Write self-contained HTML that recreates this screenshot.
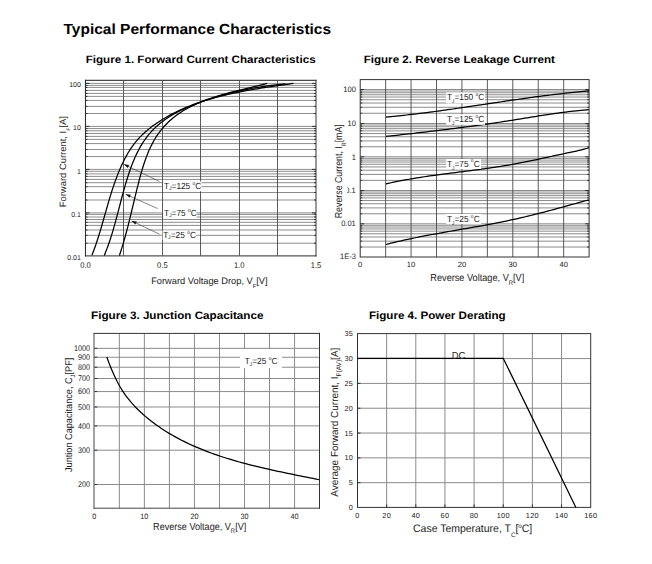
<!DOCTYPE html>
<html><head><meta charset="utf-8"><title>Typical Performance Characteristics</title>
<style>
html,body{margin:0;padding:0;background:#fff;}
body{width:652px;height:564px;overflow:hidden;}
svg{display:block;font-family:"Liberation Sans",Arial,sans-serif;text-rendering:geometricPrecision;}
</style></head><body>
<svg width="652" height="564" viewBox="0 0 652 564">

<rect width="652" height="564" fill="#fff"/>
<g>
<line x1="85.5" y1="243.2" x2="316" y2="243.2" stroke="#8c8c8c" stroke-width="1"/>
<line x1="85.5" y1="243.2" x2="87.5" y2="243.2" stroke="#333" stroke-width="1"/>
<line x1="314" y1="243.2" x2="316" y2="243.2" stroke="#333" stroke-width="1"/>
<line x1="85.5" y1="235.35" x2="316" y2="235.35" stroke="#8c8c8c" stroke-width="1"/>
<line x1="85.5" y1="235.35" x2="87.5" y2="235.35" stroke="#333" stroke-width="1"/>
<line x1="314" y1="235.35" x2="316" y2="235.35" stroke="#333" stroke-width="1"/>
<line x1="85.5" y1="230" x2="316" y2="230" stroke="#8c8c8c" stroke-width="1"/>
<line x1="85.5" y1="230" x2="87.5" y2="230" stroke="#333" stroke-width="1"/>
<line x1="314" y1="230" x2="316" y2="230" stroke="#333" stroke-width="1"/>
<line x1="85.5" y1="225.4" x2="316" y2="225.4" stroke="#8c8c8c" stroke-width="1"/>
<line x1="85.5" y1="225.4" x2="87.5" y2="225.4" stroke="#333" stroke-width="1"/>
<line x1="314" y1="225.4" x2="316" y2="225.4" stroke="#333" stroke-width="1"/>
<line x1="85.5" y1="222.3" x2="316" y2="222.3" stroke="#8c8c8c" stroke-width="1"/>
<line x1="85.5" y1="222.3" x2="87.5" y2="222.3" stroke="#333" stroke-width="1"/>
<line x1="314" y1="222.3" x2="316" y2="222.3" stroke="#333" stroke-width="1"/>
<line x1="85.5" y1="219.5" x2="316" y2="219.5" stroke="#8c8c8c" stroke-width="1"/>
<line x1="85.5" y1="219.5" x2="87.5" y2="219.5" stroke="#333" stroke-width="1"/>
<line x1="314" y1="219.5" x2="316" y2="219.5" stroke="#333" stroke-width="1"/>
<line x1="85.5" y1="217" x2="316" y2="217" stroke="#8c8c8c" stroke-width="1"/>
<line x1="85.5" y1="217" x2="87.5" y2="217" stroke="#333" stroke-width="1"/>
<line x1="314" y1="217" x2="316" y2="217" stroke="#333" stroke-width="1"/>
<line x1="85.5" y1="214.4" x2="316" y2="214.4" stroke="#8c8c8c" stroke-width="1"/>
<line x1="85.5" y1="214.4" x2="87.5" y2="214.4" stroke="#333" stroke-width="1"/>
<line x1="314" y1="214.4" x2="316" y2="214.4" stroke="#333" stroke-width="1"/>
<line x1="85.5" y1="212.9" x2="316" y2="212.9" stroke="#8c8c8c" stroke-width="1"/>
<line x1="85.5" y1="212.9" x2="89.5" y2="212.9" stroke="#333" stroke-width="1"/>
<line x1="312" y1="212.9" x2="316" y2="212.9" stroke="#333" stroke-width="1"/>
<line x1="85.5" y1="200" x2="316" y2="200" stroke="#8c8c8c" stroke-width="1"/>
<line x1="85.5" y1="200" x2="87.5" y2="200" stroke="#333" stroke-width="1"/>
<line x1="314" y1="200" x2="316" y2="200" stroke="#333" stroke-width="1"/>
<line x1="85.5" y1="192.5" x2="316" y2="192.5" stroke="#8c8c8c" stroke-width="1"/>
<line x1="85.5" y1="192.5" x2="87.5" y2="192.5" stroke="#333" stroke-width="1"/>
<line x1="314" y1="192.5" x2="316" y2="192.5" stroke="#333" stroke-width="1"/>
<line x1="85.5" y1="186.7" x2="316" y2="186.7" stroke="#8c8c8c" stroke-width="1"/>
<line x1="85.5" y1="186.7" x2="87.5" y2="186.7" stroke="#333" stroke-width="1"/>
<line x1="314" y1="186.7" x2="316" y2="186.7" stroke="#333" stroke-width="1"/>
<line x1="85.5" y1="182.7" x2="316" y2="182.7" stroke="#8c8c8c" stroke-width="1"/>
<line x1="85.5" y1="182.7" x2="87.5" y2="182.7" stroke="#333" stroke-width="1"/>
<line x1="314" y1="182.7" x2="316" y2="182.7" stroke="#333" stroke-width="1"/>
<line x1="85.5" y1="179.4" x2="316" y2="179.4" stroke="#8c8c8c" stroke-width="1"/>
<line x1="85.5" y1="179.4" x2="87.5" y2="179.4" stroke="#333" stroke-width="1"/>
<line x1="314" y1="179.4" x2="316" y2="179.4" stroke="#333" stroke-width="1"/>
<line x1="85.5" y1="176.4" x2="316" y2="176.4" stroke="#8c8c8c" stroke-width="1"/>
<line x1="85.5" y1="176.4" x2="87.5" y2="176.4" stroke="#333" stroke-width="1"/>
<line x1="314" y1="176.4" x2="316" y2="176.4" stroke="#333" stroke-width="1"/>
<line x1="85.5" y1="173.9" x2="316" y2="173.9" stroke="#8c8c8c" stroke-width="1"/>
<line x1="85.5" y1="173.9" x2="87.5" y2="173.9" stroke="#333" stroke-width="1"/>
<line x1="314" y1="173.9" x2="316" y2="173.9" stroke="#333" stroke-width="1"/>
<line x1="85.5" y1="171.3" x2="316" y2="171.3" stroke="#8c8c8c" stroke-width="1"/>
<line x1="85.5" y1="171.3" x2="87.5" y2="171.3" stroke="#333" stroke-width="1"/>
<line x1="314" y1="171.3" x2="316" y2="171.3" stroke="#333" stroke-width="1"/>
<line x1="85.5" y1="169.4" x2="316" y2="169.4" stroke="#8c8c8c" stroke-width="1"/>
<line x1="85.5" y1="169.4" x2="89.5" y2="169.4" stroke="#333" stroke-width="1"/>
<line x1="312" y1="169.4" x2="316" y2="169.4" stroke="#333" stroke-width="1"/>
<line x1="85.5" y1="156.6" x2="316" y2="156.6" stroke="#8c8c8c" stroke-width="1"/>
<line x1="85.5" y1="156.6" x2="87.5" y2="156.6" stroke="#333" stroke-width="1"/>
<line x1="314" y1="156.6" x2="316" y2="156.6" stroke="#333" stroke-width="1"/>
<line x1="85.5" y1="149.5" x2="316" y2="149.5" stroke="#8c8c8c" stroke-width="1"/>
<line x1="85.5" y1="149.5" x2="87.5" y2="149.5" stroke="#333" stroke-width="1"/>
<line x1="314" y1="149.5" x2="316" y2="149.5" stroke="#333" stroke-width="1"/>
<line x1="85.5" y1="143.6" x2="316" y2="143.6" stroke="#8c8c8c" stroke-width="1"/>
<line x1="85.5" y1="143.6" x2="87.5" y2="143.6" stroke="#333" stroke-width="1"/>
<line x1="314" y1="143.6" x2="316" y2="143.6" stroke="#333" stroke-width="1"/>
<line x1="85.5" y1="139.4" x2="316" y2="139.4" stroke="#8c8c8c" stroke-width="1"/>
<line x1="85.5" y1="139.4" x2="87.5" y2="139.4" stroke="#333" stroke-width="1"/>
<line x1="314" y1="139.4" x2="316" y2="139.4" stroke="#333" stroke-width="1"/>
<line x1="85.5" y1="136.4" x2="316" y2="136.4" stroke="#8c8c8c" stroke-width="1"/>
<line x1="85.5" y1="136.4" x2="87.5" y2="136.4" stroke="#333" stroke-width="1"/>
<line x1="314" y1="136.4" x2="316" y2="136.4" stroke="#333" stroke-width="1"/>
<line x1="85.5" y1="133.46" x2="316" y2="133.46" stroke="#8c8c8c" stroke-width="1"/>
<line x1="85.5" y1="133.46" x2="87.5" y2="133.46" stroke="#333" stroke-width="1"/>
<line x1="314" y1="133.46" x2="316" y2="133.46" stroke="#333" stroke-width="1"/>
<line x1="85.5" y1="130.77" x2="316" y2="130.77" stroke="#8c8c8c" stroke-width="1"/>
<line x1="85.5" y1="130.77" x2="87.5" y2="130.77" stroke="#333" stroke-width="1"/>
<line x1="314" y1="130.77" x2="316" y2="130.77" stroke="#333" stroke-width="1"/>
<line x1="85.5" y1="128.56" x2="316" y2="128.56" stroke="#8c8c8c" stroke-width="1"/>
<line x1="85.5" y1="128.56" x2="87.5" y2="128.56" stroke="#333" stroke-width="1"/>
<line x1="314" y1="128.56" x2="316" y2="128.56" stroke="#333" stroke-width="1"/>
<line x1="85.5" y1="126.4" x2="316" y2="126.4" stroke="#8c8c8c" stroke-width="1"/>
<line x1="85.5" y1="126.4" x2="89.5" y2="126.4" stroke="#333" stroke-width="1"/>
<line x1="312" y1="126.4" x2="316" y2="126.4" stroke="#333" stroke-width="1"/>
<line x1="85.5" y1="113.5" x2="316" y2="113.5" stroke="#8c8c8c" stroke-width="1"/>
<line x1="85.5" y1="113.5" x2="87.5" y2="113.5" stroke="#333" stroke-width="1"/>
<line x1="314" y1="113.5" x2="316" y2="113.5" stroke="#333" stroke-width="1"/>
<line x1="85.5" y1="106.4" x2="316" y2="106.4" stroke="#8c8c8c" stroke-width="1"/>
<line x1="85.5" y1="106.4" x2="87.5" y2="106.4" stroke="#333" stroke-width="1"/>
<line x1="314" y1="106.4" x2="316" y2="106.4" stroke="#333" stroke-width="1"/>
<line x1="85.5" y1="100.4" x2="316" y2="100.4" stroke="#8c8c8c" stroke-width="1"/>
<line x1="85.5" y1="100.4" x2="87.5" y2="100.4" stroke="#333" stroke-width="1"/>
<line x1="314" y1="100.4" x2="316" y2="100.4" stroke="#333" stroke-width="1"/>
<line x1="85.5" y1="96.4" x2="316" y2="96.4" stroke="#8c8c8c" stroke-width="1"/>
<line x1="85.5" y1="96.4" x2="87.5" y2="96.4" stroke="#333" stroke-width="1"/>
<line x1="314" y1="96.4" x2="316" y2="96.4" stroke="#333" stroke-width="1"/>
<line x1="85.5" y1="93.4" x2="316" y2="93.4" stroke="#8c8c8c" stroke-width="1"/>
<line x1="85.5" y1="93.4" x2="87.5" y2="93.4" stroke="#333" stroke-width="1"/>
<line x1="314" y1="93.4" x2="316" y2="93.4" stroke="#333" stroke-width="1"/>
<line x1="85.5" y1="90.4" x2="316" y2="90.4" stroke="#8c8c8c" stroke-width="1"/>
<line x1="85.5" y1="90.4" x2="87.5" y2="90.4" stroke="#333" stroke-width="1"/>
<line x1="314" y1="90.4" x2="316" y2="90.4" stroke="#333" stroke-width="1"/>
<line x1="85.5" y1="87.4" x2="316" y2="87.4" stroke="#8c8c8c" stroke-width="1"/>
<line x1="85.5" y1="87.4" x2="87.5" y2="87.4" stroke="#333" stroke-width="1"/>
<line x1="314" y1="87.4" x2="316" y2="87.4" stroke="#333" stroke-width="1"/>
<line x1="85.5" y1="85.4" x2="316" y2="85.4" stroke="#8c8c8c" stroke-width="1"/>
<line x1="85.5" y1="85.4" x2="87.5" y2="85.4" stroke="#333" stroke-width="1"/>
<line x1="314" y1="85.4" x2="316" y2="85.4" stroke="#333" stroke-width="1"/>
<line x1="85.5" y1="83.4" x2="316" y2="83.4" stroke="#8c8c8c" stroke-width="1"/>
<line x1="85.5" y1="83.4" x2="89.5" y2="83.4" stroke="#333" stroke-width="1"/>
<line x1="312" y1="83.4" x2="316" y2="83.4" stroke="#333" stroke-width="1"/>
<line x1="123.5" y1="80.45" x2="123.5" y2="255.9" stroke="#4a4a4a" stroke-width="0.9"/>
<line x1="162.5" y1="80.45" x2="162.5" y2="255.9" stroke="#4a4a4a" stroke-width="0.9"/>
<line x1="200.5" y1="80.45" x2="200.5" y2="255.9" stroke="#4a4a4a" stroke-width="0.9"/>
<line x1="239.5" y1="80.45" x2="239.5" y2="255.9" stroke="#4a4a4a" stroke-width="0.9"/>
<line x1="277.5" y1="80.45" x2="277.5" y2="255.9" stroke="#4a4a4a" stroke-width="0.9"/>
<line x1="84.95" y1="80.3" x2="316.5" y2="80.3" stroke="#4a4a4a" stroke-width="1.2"/>
<line x1="84.95" y1="255.9" x2="316.5" y2="255.9" stroke="#555" stroke-width="1.2"/>
<line x1="85.45" y1="79.8" x2="85.45" y2="256.4" stroke="#222" stroke-width="1"/>
<line x1="316" y1="79.8" x2="316" y2="256.4" stroke="#333" stroke-width="1"/>
<polyline points="91.88,255.37 92.77,253.1 93.64,250.81 94.48,248.52 95.31,246.21 96.11,243.89 96.89,241.56 97.66,239.22 98.41,236.87 99.14,234.52 99.87,232.15 100.58,229.78 101.28,227.4 101.97,225.02 102.66,222.63 103.34,220.24 104.02,217.85 104.7,215.46 105.38,213.06 106.06,210.66 106.74,208.27 107.43,205.87 108.12,203.47 108.82,201.08 109.53,198.69 110.25,196.31 110.98,193.93 111.73,191.55 112.49,189.18 113.27,186.82 114.07,184.46 114.89,182.12 115.73,179.78 116.6,177.45 117.48,175.14 118.4,172.83 119.34,170.54 120.32,168.26 121.32,165.99 122.36,163.74 123.43,161.51 124.54,159.29 125.7,157.11 126.89,154.94 128.13,152.81 129.41,150.71 130.75,148.65 132.13,146.62 133.57,144.63 135.07,142.69 136.62,140.8 138.24,138.95 139.91,137.16 141.64,135.41 143.42,133.71 145.24,132.06 147.11,130.45 149.02,128.88 150.97,127.36 152.95,125.87 154.95,124.43 156.99,123.02 159.04,121.65 161.11,120.32 163.21,119.02 165.32,117.75 167.45,116.52 169.6,115.33 171.77,114.17 173.95,113.04 176.16,111.94 178.38,110.87 180.61,109.83 182.86,108.82 185.12,107.84 187.4,106.89 189.69,105.97 192,105.07 194.32,104.2 196.65,103.36 198.99,102.54 201.34,101.75 203.7,100.98 206.07,100.23 208.45,99.51 210.84,98.81 213.24,98.13 215.65,97.47 218.06,96.83 220.48,96.21 222.9,95.6 225.33,95.02 227.77,94.45 230.21,93.9 232.65,93.37 235.1,92.85 237.55,92.35 240,91.86 242.45,91.38 244.91,90.92 247.36,90.47 249.82,90.03 252.27,89.61 254.73,89.19 257.18,88.78 259.63,88.38 262.07,87.99 264.52,87.61 266.96,87.24 269.39,86.87 271.82,86.51 274.25,86.15 276.67,85.8 279.08,85.45 281.49,85.1 283.89,84.76 286.28,84.42 288.66,84.08 291.03,83.74 293.39,83.4" fill="none" stroke="#000" stroke-width="1.25" stroke-linejoin="round"/>
<polyline points="104.27,255.41 105.17,253.23 106.05,251.05 106.89,248.86 107.7,246.66 108.5,244.46 109.27,242.25 110.01,240.03 110.74,237.81 111.45,235.58 112.13,233.35 112.81,231.11 113.46,228.87 114.11,226.63 114.74,224.38 115.36,222.13 115.98,219.87 116.58,217.62 117.18,215.36 117.77,213.1 118.36,210.83 118.95,208.57 119.54,206.31 120.12,204.04 120.71,201.78 121.31,199.51 121.9,197.25 122.51,194.99 123.12,192.73 123.74,190.47 124.37,188.21 125.02,185.95 125.67,183.7 126.34,181.45 127.03,179.21 127.74,176.97 128.46,174.73 129.21,172.5 129.97,170.27 130.76,168.05 131.58,165.84 132.43,163.63 133.3,161.44 134.21,159.27 135.15,157.11 136.12,154.98 137.14,152.86 138.2,150.77 139.29,148.71 140.44,146.67 141.63,144.67 142.87,142.7 144.16,140.77 145.49,138.87 146.87,137.01 148.3,135.19 149.78,133.42 151.3,131.69 152.88,130 154.49,128.37 156.16,126.78 157.87,125.24 159.62,123.75 161.42,122.31 163.25,120.92 165.13,119.56 167.04,118.26 168.98,116.99 170.96,115.77 172.96,114.58 175,113.43 177.06,112.32 179.14,111.24 181.25,110.2 183.38,109.19 185.52,108.2 187.68,107.25 189.86,106.32 192.05,105.42 194.25,104.55 196.46,103.69 198.67,102.86 200.89,102.05 203.12,101.26 205.34,100.48 207.57,99.73 209.8,98.99 212.04,98.27 214.28,97.57 216.52,96.89 218.77,96.22 221.01,95.58 223.27,94.95 225.52,94.33 227.78,93.74 230.04,93.16 232.3,92.6 234.57,92.05 236.84,91.52 239.12,91.01 241.4,90.51 243.68,90.03 245.96,89.56 248.25,89.11 250.54,88.67 252.83,88.25 255.13,87.85 257.43,87.46 259.73,87.08 262.04,86.72 264.35,86.37 266.67,86.04 268.98,85.72 271.3,85.41 273.63,85.12 275.96,84.84 278.29,84.57 280.62,84.32 282.96,84.08 285.3,83.85" fill="none" stroke="#000" stroke-width="1.25" stroke-linejoin="round"/>
<polyline points="119.41,255.52 120.09,253.49 120.75,251.46 121.39,249.43 122.02,247.4 122.64,245.37 123.25,243.34 123.84,241.31 124.42,239.28 124.99,237.24 125.55,235.21 126.1,233.18 126.64,231.14 127.18,229.11 127.71,227.07 128.23,225.03 128.74,222.99 129.25,220.95 129.75,218.91 130.25,216.87 130.75,214.83 131.24,212.78 131.73,210.74 132.22,208.69 132.71,206.65 133.2,204.6 133.69,202.55 134.18,200.5 134.67,198.45 135.17,196.39 135.67,194.34 136.17,192.28 136.67,190.22 137.19,188.16 137.7,186.1 138.23,184.04 138.76,181.98 139.3,179.91 139.85,177.84 140.41,175.78 140.98,173.72 141.56,171.65 142.16,169.6 142.78,167.55 143.42,165.51 144.08,163.47 144.76,161.45 145.46,159.44 146.19,157.44 146.94,155.46 147.73,153.49 148.54,151.54 149.39,149.6 150.26,147.69 151.18,145.8 152.13,143.92 153.12,142.08 154.14,140.26 155.21,138.46 156.32,136.69 157.48,134.95 158.67,133.25 159.91,131.57 161.19,129.93 162.51,128.32 163.88,126.74 165.28,125.2 166.72,123.7 168.21,122.24 169.73,120.82 171.3,119.44 172.9,118.1 174.53,116.8 176.2,115.53 177.9,114.31 179.63,113.12 181.39,111.96 183.18,110.84 184.99,109.76 186.82,108.71 188.67,107.69 190.54,106.71 192.43,105.76 194.34,104.84 196.26,103.95 198.2,103.09 200.16,102.26 202.12,101.45 204.1,100.67 206.09,99.92 208.09,99.19 210.11,98.48 212.13,97.79 214.16,97.13 216.2,96.48 218.24,95.85 220.29,95.24 222.35,94.65 224.41,94.07 226.48,93.5 228.55,92.95 230.62,92.4 232.69,91.87 234.76,91.35 236.83,90.84 238.9,90.33 240.97,89.83 243.03,89.33 245.09,88.84 247.15,88.35 249.2,87.87 251.25,87.38 253.28,86.89 255.31,86.41 257.34,85.91 259.35,85.42 261.35,84.92 263.34,84.41 265.32,83.9 267.28,83.38" fill="none" stroke="#000" stroke-width="1.25" stroke-linejoin="round"/>
<line x1="159.5" y1="181.5" x2="123.9" y2="164.3" stroke="#333" stroke-width="0.6"/>
<polygon points="123.9,164.3 129.1,165.03 127.71,167.92" fill="#111"/>
<line x1="157.5" y1="208.5" x2="125.6" y2="194.3" stroke="#333" stroke-width="0.6"/>
<polygon points="125.6,194.3 130.82,194.87 129.52,197.8" fill="#111"/>
<line x1="159.5" y1="234.2" x2="131.6" y2="220.9" stroke="#333" stroke-width="0.6"/>
<polygon points="131.6,220.9 136.8,221.61 135.42,224.5" fill="#111"/>
<rect x="163.2" y="181.5" width="38.3" height="9.7" fill="#fff"/>
<rect x="163.2" y="208.2" width="33.3" height="9.7" fill="#fff"/>
<rect x="162.6" y="230.5" width="33.4" height="9.7" fill="#fff"/>
<line x1="360.2" y1="247.01" x2="589.1" y2="247.01" stroke="#8c8c8c" stroke-width="1"/>
<line x1="360.2" y1="247.01" x2="362.2" y2="247.01" stroke="#333" stroke-width="1"/>
<line x1="587.1" y1="247.01" x2="589.1" y2="247.01" stroke="#333" stroke-width="1"/>
<line x1="360.2" y1="241.16" x2="589.1" y2="241.16" stroke="#8c8c8c" stroke-width="1"/>
<line x1="360.2" y1="241.16" x2="362.2" y2="241.16" stroke="#333" stroke-width="1"/>
<line x1="587.1" y1="241.16" x2="589.1" y2="241.16" stroke="#333" stroke-width="1"/>
<line x1="360.2" y1="237.01" x2="589.1" y2="237.01" stroke="#8c8c8c" stroke-width="1"/>
<line x1="360.2" y1="237.01" x2="362.2" y2="237.01" stroke="#333" stroke-width="1"/>
<line x1="587.1" y1="237.01" x2="589.1" y2="237.01" stroke="#333" stroke-width="1"/>
<line x1="360.2" y1="233.79" x2="589.1" y2="233.79" stroke="#8c8c8c" stroke-width="1"/>
<line x1="360.2" y1="233.79" x2="362.2" y2="233.79" stroke="#333" stroke-width="1"/>
<line x1="587.1" y1="233.79" x2="589.1" y2="233.79" stroke="#333" stroke-width="1"/>
<line x1="360.2" y1="231.17" x2="589.1" y2="231.17" stroke="#8c8c8c" stroke-width="1"/>
<line x1="360.2" y1="231.17" x2="362.2" y2="231.17" stroke="#333" stroke-width="1"/>
<line x1="587.1" y1="231.17" x2="589.1" y2="231.17" stroke="#333" stroke-width="1"/>
<line x1="360.2" y1="228.94" x2="589.1" y2="228.94" stroke="#8c8c8c" stroke-width="1"/>
<line x1="360.2" y1="228.94" x2="362.2" y2="228.94" stroke="#333" stroke-width="1"/>
<line x1="587.1" y1="228.94" x2="589.1" y2="228.94" stroke="#333" stroke-width="1"/>
<line x1="360.2" y1="227.02" x2="589.1" y2="227.02" stroke="#8c8c8c" stroke-width="1"/>
<line x1="360.2" y1="227.02" x2="362.2" y2="227.02" stroke="#333" stroke-width="1"/>
<line x1="587.1" y1="227.02" x2="589.1" y2="227.02" stroke="#333" stroke-width="1"/>
<line x1="360.2" y1="225.32" x2="589.1" y2="225.32" stroke="#8c8c8c" stroke-width="1"/>
<line x1="360.2" y1="225.32" x2="362.2" y2="225.32" stroke="#333" stroke-width="1"/>
<line x1="587.1" y1="225.32" x2="589.1" y2="225.32" stroke="#333" stroke-width="1"/>
<line x1="360.2" y1="223.8" x2="589.1" y2="223.8" stroke="#8c8c8c" stroke-width="1"/>
<line x1="360.2" y1="223.8" x2="364.2" y2="223.8" stroke="#333" stroke-width="1"/>
<line x1="585.1" y1="223.8" x2="589.1" y2="223.8" stroke="#333" stroke-width="1"/>
<line x1="360.2" y1="213.78" x2="589.1" y2="213.78" stroke="#8c8c8c" stroke-width="1"/>
<line x1="360.2" y1="213.78" x2="362.2" y2="213.78" stroke="#333" stroke-width="1"/>
<line x1="587.1" y1="213.78" x2="589.1" y2="213.78" stroke="#333" stroke-width="1"/>
<line x1="360.2" y1="207.91" x2="589.1" y2="207.91" stroke="#8c8c8c" stroke-width="1"/>
<line x1="360.2" y1="207.91" x2="362.2" y2="207.91" stroke="#333" stroke-width="1"/>
<line x1="587.1" y1="207.91" x2="589.1" y2="207.91" stroke="#333" stroke-width="1"/>
<line x1="360.2" y1="203.75" x2="589.1" y2="203.75" stroke="#8c8c8c" stroke-width="1"/>
<line x1="360.2" y1="203.75" x2="362.2" y2="203.75" stroke="#333" stroke-width="1"/>
<line x1="587.1" y1="203.75" x2="589.1" y2="203.75" stroke="#333" stroke-width="1"/>
<line x1="360.2" y1="200.52" x2="589.1" y2="200.52" stroke="#8c8c8c" stroke-width="1"/>
<line x1="360.2" y1="200.52" x2="362.2" y2="200.52" stroke="#333" stroke-width="1"/>
<line x1="587.1" y1="200.52" x2="589.1" y2="200.52" stroke="#333" stroke-width="1"/>
<line x1="360.2" y1="197.89" x2="589.1" y2="197.89" stroke="#8c8c8c" stroke-width="1"/>
<line x1="360.2" y1="197.89" x2="362.2" y2="197.89" stroke="#333" stroke-width="1"/>
<line x1="587.1" y1="197.89" x2="589.1" y2="197.89" stroke="#333" stroke-width="1"/>
<line x1="360.2" y1="195.66" x2="589.1" y2="195.66" stroke="#8c8c8c" stroke-width="1"/>
<line x1="360.2" y1="195.66" x2="362.2" y2="195.66" stroke="#333" stroke-width="1"/>
<line x1="587.1" y1="195.66" x2="589.1" y2="195.66" stroke="#333" stroke-width="1"/>
<line x1="360.2" y1="193.73" x2="589.1" y2="193.73" stroke="#8c8c8c" stroke-width="1"/>
<line x1="360.2" y1="193.73" x2="362.2" y2="193.73" stroke="#333" stroke-width="1"/>
<line x1="587.1" y1="193.73" x2="589.1" y2="193.73" stroke="#333" stroke-width="1"/>
<line x1="360.2" y1="192.02" x2="589.1" y2="192.02" stroke="#8c8c8c" stroke-width="1"/>
<line x1="360.2" y1="192.02" x2="362.2" y2="192.02" stroke="#333" stroke-width="1"/>
<line x1="587.1" y1="192.02" x2="589.1" y2="192.02" stroke="#333" stroke-width="1"/>
<line x1="360.2" y1="190.5" x2="589.1" y2="190.5" stroke="#8c8c8c" stroke-width="1"/>
<line x1="360.2" y1="190.5" x2="364.2" y2="190.5" stroke="#333" stroke-width="1"/>
<line x1="585.1" y1="190.5" x2="589.1" y2="190.5" stroke="#333" stroke-width="1"/>
<line x1="360.2" y1="180.36" x2="589.1" y2="180.36" stroke="#8c8c8c" stroke-width="1"/>
<line x1="360.2" y1="180.36" x2="362.2" y2="180.36" stroke="#333" stroke-width="1"/>
<line x1="587.1" y1="180.36" x2="589.1" y2="180.36" stroke="#333" stroke-width="1"/>
<line x1="360.2" y1="174.42" x2="589.1" y2="174.42" stroke="#8c8c8c" stroke-width="1"/>
<line x1="360.2" y1="174.42" x2="362.2" y2="174.42" stroke="#333" stroke-width="1"/>
<line x1="587.1" y1="174.42" x2="589.1" y2="174.42" stroke="#333" stroke-width="1"/>
<line x1="360.2" y1="170.21" x2="589.1" y2="170.21" stroke="#8c8c8c" stroke-width="1"/>
<line x1="360.2" y1="170.21" x2="362.2" y2="170.21" stroke="#333" stroke-width="1"/>
<line x1="587.1" y1="170.21" x2="589.1" y2="170.21" stroke="#333" stroke-width="1"/>
<line x1="360.2" y1="166.94" x2="589.1" y2="166.94" stroke="#8c8c8c" stroke-width="1"/>
<line x1="360.2" y1="166.94" x2="362.2" y2="166.94" stroke="#333" stroke-width="1"/>
<line x1="587.1" y1="166.94" x2="589.1" y2="166.94" stroke="#333" stroke-width="1"/>
<line x1="360.2" y1="164.28" x2="589.1" y2="164.28" stroke="#8c8c8c" stroke-width="1"/>
<line x1="360.2" y1="164.28" x2="362.2" y2="164.28" stroke="#333" stroke-width="1"/>
<line x1="587.1" y1="164.28" x2="589.1" y2="164.28" stroke="#333" stroke-width="1"/>
<line x1="360.2" y1="162.02" x2="589.1" y2="162.02" stroke="#8c8c8c" stroke-width="1"/>
<line x1="360.2" y1="162.02" x2="362.2" y2="162.02" stroke="#333" stroke-width="1"/>
<line x1="587.1" y1="162.02" x2="589.1" y2="162.02" stroke="#333" stroke-width="1"/>
<line x1="360.2" y1="160.07" x2="589.1" y2="160.07" stroke="#8c8c8c" stroke-width="1"/>
<line x1="360.2" y1="160.07" x2="362.2" y2="160.07" stroke="#333" stroke-width="1"/>
<line x1="587.1" y1="160.07" x2="589.1" y2="160.07" stroke="#333" stroke-width="1"/>
<line x1="360.2" y1="158.34" x2="589.1" y2="158.34" stroke="#8c8c8c" stroke-width="1"/>
<line x1="360.2" y1="158.34" x2="362.2" y2="158.34" stroke="#333" stroke-width="1"/>
<line x1="587.1" y1="158.34" x2="589.1" y2="158.34" stroke="#333" stroke-width="1"/>
<line x1="360.2" y1="156.8" x2="589.1" y2="156.8" stroke="#8c8c8c" stroke-width="1"/>
<line x1="360.2" y1="156.8" x2="364.2" y2="156.8" stroke="#333" stroke-width="1"/>
<line x1="585.1" y1="156.8" x2="589.1" y2="156.8" stroke="#333" stroke-width="1"/>
<line x1="360.2" y1="146.78" x2="589.1" y2="146.78" stroke="#8c8c8c" stroke-width="1"/>
<line x1="360.2" y1="146.78" x2="362.2" y2="146.78" stroke="#333" stroke-width="1"/>
<line x1="587.1" y1="146.78" x2="589.1" y2="146.78" stroke="#333" stroke-width="1"/>
<line x1="360.2" y1="140.91" x2="589.1" y2="140.91" stroke="#8c8c8c" stroke-width="1"/>
<line x1="360.2" y1="140.91" x2="362.2" y2="140.91" stroke="#333" stroke-width="1"/>
<line x1="587.1" y1="140.91" x2="589.1" y2="140.91" stroke="#333" stroke-width="1"/>
<line x1="360.2" y1="136.75" x2="589.1" y2="136.75" stroke="#8c8c8c" stroke-width="1"/>
<line x1="360.2" y1="136.75" x2="362.2" y2="136.75" stroke="#333" stroke-width="1"/>
<line x1="587.1" y1="136.75" x2="589.1" y2="136.75" stroke="#333" stroke-width="1"/>
<line x1="360.2" y1="133.52" x2="589.1" y2="133.52" stroke="#8c8c8c" stroke-width="1"/>
<line x1="360.2" y1="133.52" x2="362.2" y2="133.52" stroke="#333" stroke-width="1"/>
<line x1="587.1" y1="133.52" x2="589.1" y2="133.52" stroke="#333" stroke-width="1"/>
<line x1="360.2" y1="130.89" x2="589.1" y2="130.89" stroke="#8c8c8c" stroke-width="1"/>
<line x1="360.2" y1="130.89" x2="362.2" y2="130.89" stroke="#333" stroke-width="1"/>
<line x1="587.1" y1="130.89" x2="589.1" y2="130.89" stroke="#333" stroke-width="1"/>
<line x1="360.2" y1="128.66" x2="589.1" y2="128.66" stroke="#8c8c8c" stroke-width="1"/>
<line x1="360.2" y1="128.66" x2="362.2" y2="128.66" stroke="#333" stroke-width="1"/>
<line x1="587.1" y1="128.66" x2="589.1" y2="128.66" stroke="#333" stroke-width="1"/>
<line x1="360.2" y1="126.73" x2="589.1" y2="126.73" stroke="#8c8c8c" stroke-width="1"/>
<line x1="360.2" y1="126.73" x2="362.2" y2="126.73" stroke="#333" stroke-width="1"/>
<line x1="587.1" y1="126.73" x2="589.1" y2="126.73" stroke="#333" stroke-width="1"/>
<line x1="360.2" y1="125.02" x2="589.1" y2="125.02" stroke="#8c8c8c" stroke-width="1"/>
<line x1="360.2" y1="125.02" x2="362.2" y2="125.02" stroke="#333" stroke-width="1"/>
<line x1="587.1" y1="125.02" x2="589.1" y2="125.02" stroke="#333" stroke-width="1"/>
<line x1="360.2" y1="123.5" x2="589.1" y2="123.5" stroke="#8c8c8c" stroke-width="1"/>
<line x1="360.2" y1="123.5" x2="364.2" y2="123.5" stroke="#333" stroke-width="1"/>
<line x1="585.1" y1="123.5" x2="589.1" y2="123.5" stroke="#333" stroke-width="1"/>
<line x1="360.2" y1="113.26" x2="589.1" y2="113.26" stroke="#8c8c8c" stroke-width="1"/>
<line x1="360.2" y1="113.26" x2="362.2" y2="113.26" stroke="#333" stroke-width="1"/>
<line x1="587.1" y1="113.26" x2="589.1" y2="113.26" stroke="#333" stroke-width="1"/>
<line x1="360.2" y1="107.28" x2="589.1" y2="107.28" stroke="#8c8c8c" stroke-width="1"/>
<line x1="360.2" y1="107.28" x2="362.2" y2="107.28" stroke="#333" stroke-width="1"/>
<line x1="587.1" y1="107.28" x2="589.1" y2="107.28" stroke="#333" stroke-width="1"/>
<line x1="360.2" y1="103.03" x2="589.1" y2="103.03" stroke="#8c8c8c" stroke-width="1"/>
<line x1="360.2" y1="103.03" x2="362.2" y2="103.03" stroke="#333" stroke-width="1"/>
<line x1="587.1" y1="103.03" x2="589.1" y2="103.03" stroke="#333" stroke-width="1"/>
<line x1="360.2" y1="99.74" x2="589.1" y2="99.74" stroke="#8c8c8c" stroke-width="1"/>
<line x1="360.2" y1="99.74" x2="362.2" y2="99.74" stroke="#333" stroke-width="1"/>
<line x1="587.1" y1="99.74" x2="589.1" y2="99.74" stroke="#333" stroke-width="1"/>
<line x1="360.2" y1="97.04" x2="589.1" y2="97.04" stroke="#8c8c8c" stroke-width="1"/>
<line x1="360.2" y1="97.04" x2="362.2" y2="97.04" stroke="#333" stroke-width="1"/>
<line x1="587.1" y1="97.04" x2="589.1" y2="97.04" stroke="#333" stroke-width="1"/>
<line x1="360.2" y1="94.77" x2="589.1" y2="94.77" stroke="#8c8c8c" stroke-width="1"/>
<line x1="360.2" y1="94.77" x2="362.2" y2="94.77" stroke="#333" stroke-width="1"/>
<line x1="587.1" y1="94.77" x2="589.1" y2="94.77" stroke="#333" stroke-width="1"/>
<line x1="360.2" y1="92.79" x2="589.1" y2="92.79" stroke="#8c8c8c" stroke-width="1"/>
<line x1="360.2" y1="92.79" x2="362.2" y2="92.79" stroke="#333" stroke-width="1"/>
<line x1="587.1" y1="92.79" x2="589.1" y2="92.79" stroke="#333" stroke-width="1"/>
<line x1="360.2" y1="91.06" x2="589.1" y2="91.06" stroke="#8c8c8c" stroke-width="1"/>
<line x1="360.2" y1="91.06" x2="362.2" y2="91.06" stroke="#333" stroke-width="1"/>
<line x1="587.1" y1="91.06" x2="589.1" y2="91.06" stroke="#333" stroke-width="1"/>
<line x1="360.2" y1="89.5" x2="589.1" y2="89.5" stroke="#8c8c8c" stroke-width="1"/>
<line x1="360.2" y1="89.5" x2="364.2" y2="89.5" stroke="#333" stroke-width="1"/>
<line x1="585.1" y1="89.5" x2="589.1" y2="89.5" stroke="#333" stroke-width="1"/>
<line x1="385.63" y1="79.6" x2="385.63" y2="257" stroke="#4a4a4a" stroke-width="0.9"/>
<line x1="411.07" y1="79.6" x2="411.07" y2="257" stroke="#4a4a4a" stroke-width="0.9"/>
<line x1="436.5" y1="79.6" x2="436.5" y2="257" stroke="#4a4a4a" stroke-width="0.9"/>
<line x1="461.93" y1="79.6" x2="461.93" y2="257" stroke="#4a4a4a" stroke-width="0.9"/>
<line x1="487.37" y1="79.6" x2="487.37" y2="257" stroke="#4a4a4a" stroke-width="0.9"/>
<line x1="512.8" y1="79.6" x2="512.8" y2="257" stroke="#4a4a4a" stroke-width="0.9"/>
<line x1="538.23" y1="79.6" x2="538.23" y2="257" stroke="#4a4a4a" stroke-width="0.9"/>
<line x1="563.67" y1="79.6" x2="563.67" y2="257" stroke="#4a4a4a" stroke-width="0.9"/>
<rect x="360.2" y="79.6" width="228.9" height="177.4" fill="none" stroke="#333" stroke-width="1"/>
<polyline points="385.89,117.06 388.48,116.83 391.06,116.59 393.64,116.34 396.23,116.09 398.81,115.83 401.39,115.56 403.96,115.28 406.54,115 409.12,114.71 411.69,114.41 414.27,114.11 416.84,113.8 419.42,113.49 421.99,113.17 424.56,112.84 427.13,112.52 429.7,112.18 432.27,111.84 434.84,111.5 437.41,111.15 439.98,110.8 442.55,110.45 445.11,110.09 447.68,109.73 450.25,109.36 452.81,109 455.38,108.63 457.95,108.25 460.51,107.88 463.08,107.5 465.64,107.12 468.2,106.74 470.77,106.36 473.33,105.98 475.9,105.59 478.46,105.21 481.02,104.82 483.59,104.44 486.15,104.05 488.72,103.67 491.28,103.28 493.84,102.9 496.41,102.51 498.97,102.13 501.53,101.75 504.1,101.37 506.66,100.99 509.23,100.61 511.79,100.24 514.36,99.87 516.92,99.5 519.49,99.13 522.06,98.76 524.62,98.4 527.19,98.04 529.76,97.69 532.33,97.34 534.89,96.99 537.46,96.65 540.03,96.31 542.6,95.98 545.17,95.65 547.75,95.32 550.32,95 552.89,94.69 555.46,94.38 558.04,94.08 560.61,93.78 563.19,93.5 565.77,93.21 568.34,92.94 570.92,92.67 573.5,92.4 576.08,92.15 578.66,91.9 581.25,91.66 583.83,91.43 586.42,91.21 589,90.99" fill="none" stroke="#000" stroke-width="1.25" stroke-linejoin="round"/>
<polyline points="385.89,136.45 388.47,136.17 391.05,135.88 393.63,135.6 396.21,135.31 398.78,135.02 401.36,134.73 403.94,134.45 406.52,134.15 409.09,133.86 411.67,133.57 414.25,133.27 416.83,132.98 419.4,132.68 421.98,132.38 424.56,132.08 427.13,131.77 429.71,131.47 432.28,131.16 434.86,130.85 437.43,130.54 440.01,130.22 442.58,129.91 445.16,129.59 447.73,129.27 450.31,128.95 452.88,128.62 455.45,128.29 458.02,127.96 460.6,127.63 463.17,127.29 465.74,126.95 468.31,126.61 470.88,126.26 473.45,125.92 476.02,125.56 478.59,125.21 481.16,124.85 483.73,124.49 486.3,124.13 488.86,123.76 491.43,123.39 494,123.01 496.56,122.63 499.13,122.25 501.69,121.86 504.26,121.47 506.82,121.08 509.38,120.68 511.94,120.28 514.5,119.87 517.07,119.46 519.63,119.05 522.19,118.63 524.75,118.21 527.31,117.8 529.87,117.38 532.43,116.96 534.99,116.55 537.55,116.14 540.11,115.73 542.67,115.33 545.23,114.93 547.79,114.54 550.36,114.15 552.92,113.78 555.49,113.41 558.05,113.05 560.62,112.7 563.19,112.36 565.76,112.03 568.33,111.71 570.91,111.41 573.48,111.12 576.06,110.85 578.64,110.59 581.22,110.35 583.8,110.13 586.39,109.92 588.98,109.73" fill="none" stroke="#000" stroke-width="1.25" stroke-linejoin="round"/>
<polyline points="385.9,183.88 388.45,183.3 391.01,182.74 393.57,182.2 396.13,181.67 398.69,181.16 401.26,180.66 403.83,180.18 406.4,179.71 408.97,179.25 411.55,178.81 414.13,178.38 416.71,177.96 419.29,177.55 421.87,177.14 424.45,176.75 427.03,176.37 429.62,175.99 432.21,175.63 434.79,175.26 437.38,174.91 439.97,174.56 442.56,174.21 445.15,173.87 447.74,173.54 450.34,173.2 452.93,172.87 455.52,172.54 458.11,172.21 460.7,171.88 463.3,171.55 465.89,171.22 468.48,170.88 471.07,170.55 473.66,170.21 476.25,169.87 478.84,169.53 481.43,169.18 484.02,168.82 486.61,168.46 489.2,168.09 491.78,167.72 494.36,167.34 496.95,166.95 499.53,166.55 502.11,166.14 504.69,165.72 507.26,165.29 509.84,164.84 512.41,164.39 514.98,163.92 517.55,163.44 520.12,162.95 522.68,162.45 525.24,161.94 527.81,161.42 530.37,160.89 532.93,160.36 535.49,159.82 538.04,159.27 540.6,158.72 543.16,158.17 545.71,157.62 548.27,157.06 550.82,156.51 553.38,155.95 555.93,155.4 558.49,154.85 561.04,154.3 563.6,153.76 566.15,153.22 568.71,152.68 571.26,152.14 573.81,151.59 576.36,151.02 578.9,150.43 581.44,149.82 583.97,149.17 586.5,148.49 589.01,147.77" fill="none" stroke="#000" stroke-width="1.25" stroke-linejoin="round"/>
<polyline points="385.9,244.51 388.46,243.86 391.01,243.21 393.57,242.59 396.14,241.97 398.7,241.37 401.27,240.79 403.84,240.21 406.42,239.64 408.99,239.09 411.57,238.55 414.15,238.01 416.73,237.49 419.31,236.97 421.9,236.46 424.48,235.96 427.07,235.47 429.66,234.98 432.25,234.5 434.84,234.02 437.43,233.55 440.02,233.08 442.62,232.62 445.21,232.16 447.81,231.7 450.4,231.25 453,230.8 455.6,230.35 458.19,229.9 460.79,229.44 463.38,228.99 465.98,228.54 468.58,228.09 471.17,227.64 473.76,227.18 476.36,226.72 478.95,226.26 481.54,225.79 484.13,225.32 486.72,224.84 489.31,224.36 491.9,223.87 494.49,223.37 497.07,222.87 499.65,222.36 502.23,221.84 504.81,221.31 507.39,220.78 509.97,220.23 512.54,219.68 515.11,219.11 517.68,218.53 520.24,217.94 522.81,217.35 525.37,216.74 527.93,216.12 530.49,215.5 533.04,214.87 535.6,214.23 538.15,213.58 540.7,212.93 543.25,212.27 545.8,211.61 548.35,210.93 550.89,210.26 553.44,209.58 555.98,208.89 558.53,208.2 561.07,207.51 563.61,206.82 566.15,206.12 568.69,205.42 571.23,204.72 573.77,204.02 576.31,203.31 578.85,202.61 581.38,201.9 583.92,201.2 586.46,200.5 589,199.79" fill="none" stroke="#000" stroke-width="1.25" stroke-linejoin="round"/>
<rect x="446" y="92.4" width="39" height="11" fill="#fff"/>
<rect x="446" y="114.5" width="39" height="10.3" fill="#fff"/>
<rect x="446" y="159" width="35" height="10" fill="#fff"/>
<rect x="446" y="214" width="35" height="10" fill="#fff"/>
<line x1="94.3" y1="484.51" x2="319.6" y2="484.51" stroke="#8a8a8a" stroke-width="1"/>
<line x1="94.3" y1="484.51" x2="97.3" y2="484.51" stroke="#333" stroke-width="1"/>
<line x1="94.3" y1="450.21" x2="319.6" y2="450.21" stroke="#8a8a8a" stroke-width="1"/>
<line x1="94.3" y1="450.21" x2="97.3" y2="450.21" stroke="#333" stroke-width="1"/>
<line x1="94.3" y1="425.87" x2="319.6" y2="425.87" stroke="#8a8a8a" stroke-width="1"/>
<line x1="94.3" y1="425.87" x2="97.3" y2="425.87" stroke="#333" stroke-width="1"/>
<line x1="94.3" y1="406.99" x2="319.6" y2="406.99" stroke="#8a8a8a" stroke-width="1"/>
<line x1="94.3" y1="406.99" x2="97.3" y2="406.99" stroke="#333" stroke-width="1"/>
<line x1="94.3" y1="391.57" x2="319.6" y2="391.57" stroke="#8a8a8a" stroke-width="1"/>
<line x1="94.3" y1="391.57" x2="97.3" y2="391.57" stroke="#333" stroke-width="1"/>
<line x1="94.3" y1="378.52" x2="319.6" y2="378.52" stroke="#8a8a8a" stroke-width="1"/>
<line x1="94.3" y1="378.52" x2="97.3" y2="378.52" stroke="#333" stroke-width="1"/>
<line x1="94.3" y1="367.23" x2="319.6" y2="367.23" stroke="#8a8a8a" stroke-width="1"/>
<line x1="94.3" y1="367.23" x2="97.3" y2="367.23" stroke="#333" stroke-width="1"/>
<line x1="94.3" y1="357.26" x2="319.6" y2="357.26" stroke="#8a8a8a" stroke-width="1"/>
<line x1="94.3" y1="357.26" x2="97.3" y2="357.26" stroke="#333" stroke-width="1"/>
<line x1="94.3" y1="348.35" x2="319.6" y2="348.35" stroke="#8a8a8a" stroke-width="1"/>
<line x1="94.3" y1="348.35" x2="97.3" y2="348.35" stroke="#333" stroke-width="1"/>
<line x1="119.33" y1="333.2" x2="119.33" y2="508" stroke="#8a8a8a" stroke-width="1"/>
<line x1="144.37" y1="333.2" x2="144.37" y2="508" stroke="#8a8a8a" stroke-width="1"/>
<line x1="169.4" y1="333.2" x2="169.4" y2="508" stroke="#8a8a8a" stroke-width="1"/>
<line x1="194.43" y1="333.2" x2="194.43" y2="508" stroke="#8a8a8a" stroke-width="1"/>
<line x1="219.47" y1="333.2" x2="219.47" y2="508" stroke="#8a8a8a" stroke-width="1"/>
<line x1="244.5" y1="333.2" x2="244.5" y2="508" stroke="#8a8a8a" stroke-width="1"/>
<line x1="269.53" y1="333.2" x2="269.53" y2="508" stroke="#8a8a8a" stroke-width="1"/>
<line x1="294.57" y1="333.2" x2="294.57" y2="508" stroke="#8a8a8a" stroke-width="1"/>
<line x1="93.5" y1="333.4" x2="320" y2="333.4" stroke="#333" stroke-width="1"/>
<line x1="93.5" y1="508.2" x2="320" y2="508.2" stroke="#444" stroke-width="1"/>
<line x1="94" y1="332.9" x2="94" y2="508.7" stroke="#555" stroke-width="1.1"/>
<line x1="319.5" y1="332.9" x2="319.5" y2="508.7" stroke="#333" stroke-width="1"/>
<polyline points="106.8,356.95 107.91,360.05 109.07,363.14 110.27,366.22 111.51,369.29 112.81,372.33 114.16,375.35 115.57,378.34 117.05,381.29 118.6,384.19 120.22,387.05 121.92,389.85 123.7,392.59 125.58,395.27 127.53,397.89 129.56,400.44 131.67,402.93 133.85,405.36 136.1,407.74 138.41,410.05 140.78,412.31 143.2,414.51 145.68,416.65 148.2,418.74 150.76,420.78 153.37,422.76 156.01,424.69 158.68,426.58 161.38,428.41 164.11,430.19 166.87,431.93 169.65,433.62 172.47,435.27 175.3,436.87 178.17,438.42 181.05,439.94 183.96,441.41 186.9,442.84 189.85,444.24 192.82,445.59 195.82,446.91 198.83,448.19 201.86,449.43 204.91,450.65 207.98,451.82 211.06,452.97 214.16,454.08 217.27,455.16 220.39,456.22 223.53,457.24 226.68,458.24 229.83,459.21 233,460.16 236.18,461.08 239.36,461.98 242.56,462.85 245.76,463.71 248.96,464.54 252.17,465.36 255.39,466.15 258.6,466.93 261.82,467.69 265.04,468.44 268.27,469.17 271.49,469.89 274.71,470.6 277.93,471.29 281.15,471.98 284.36,472.65 287.57,473.32 290.77,473.98 293.97,474.64 297.16,475.28 300.34,475.93 303.52,476.57 306.69,477.21 309.84,477.84 312.99,478.48 316.12,479.11 319.24,479.75" fill="none" stroke="#000" stroke-width="1.25" stroke-linejoin="round"/>
<rect x="240" y="349" width="42" height="19" fill="#fff"/>
<line x1="357.5" y1="482.68" x2="590.7" y2="482.68" stroke="#8a8a8a" stroke-width="1"/>
<line x1="357.5" y1="482.68" x2="360.5" y2="482.68" stroke="#333" stroke-width="1"/>
<line x1="357.5" y1="457.86" x2="590.7" y2="457.86" stroke="#8a8a8a" stroke-width="1"/>
<line x1="357.5" y1="457.86" x2="360.5" y2="457.86" stroke="#333" stroke-width="1"/>
<line x1="357.5" y1="433.04" x2="590.7" y2="433.04" stroke="#8a8a8a" stroke-width="1"/>
<line x1="357.5" y1="433.04" x2="360.5" y2="433.04" stroke="#333" stroke-width="1"/>
<line x1="357.5" y1="408.22" x2="590.7" y2="408.22" stroke="#8a8a8a" stroke-width="1"/>
<line x1="357.5" y1="408.22" x2="360.5" y2="408.22" stroke="#333" stroke-width="1"/>
<line x1="357.5" y1="383.4" x2="590.7" y2="383.4" stroke="#8a8a8a" stroke-width="1"/>
<line x1="357.5" y1="383.4" x2="360.5" y2="383.4" stroke="#333" stroke-width="1"/>
<line x1="357.5" y1="358.58" x2="590.7" y2="358.58" stroke="#8a8a8a" stroke-width="1"/>
<line x1="357.5" y1="358.58" x2="360.5" y2="358.58" stroke="#333" stroke-width="1"/>
<line x1="386.65" y1="333.6" x2="386.65" y2="507.4" stroke="#8a8a8a" stroke-width="1"/>
<line x1="386.65" y1="504.4" x2="386.65" y2="507.4" stroke="#333" stroke-width="1"/>
<line x1="415.8" y1="333.6" x2="415.8" y2="507.4" stroke="#8a8a8a" stroke-width="1"/>
<line x1="415.8" y1="504.4" x2="415.8" y2="507.4" stroke="#333" stroke-width="1"/>
<line x1="444.95" y1="333.6" x2="444.95" y2="507.4" stroke="#8a8a8a" stroke-width="1"/>
<line x1="444.95" y1="504.4" x2="444.95" y2="507.4" stroke="#333" stroke-width="1"/>
<line x1="474.1" y1="333.6" x2="474.1" y2="507.4" stroke="#8a8a8a" stroke-width="1"/>
<line x1="474.1" y1="504.4" x2="474.1" y2="507.4" stroke="#333" stroke-width="1"/>
<line x1="503.25" y1="333.6" x2="503.25" y2="507.4" stroke="#8a8a8a" stroke-width="1"/>
<line x1="503.25" y1="504.4" x2="503.25" y2="507.4" stroke="#333" stroke-width="1"/>
<line x1="532.4" y1="333.6" x2="532.4" y2="507.4" stroke="#8a8a8a" stroke-width="1"/>
<line x1="532.4" y1="504.4" x2="532.4" y2="507.4" stroke="#333" stroke-width="1"/>
<line x1="561.55" y1="333.6" x2="561.55" y2="507.4" stroke="#8a8a8a" stroke-width="1"/>
<line x1="561.55" y1="504.4" x2="561.55" y2="507.4" stroke="#333" stroke-width="1"/>
<rect x="357.5" y="333.6" width="233.2" height="173.8" fill="none" stroke="#333" stroke-width="1"/>
<polyline points="357.5,358.4 503.3,358.4 575.9,507.4" fill="none" stroke="#000" stroke-width="1.25" stroke-linejoin="round"/>
</g>
<g>
<g transform="translate(63.52,33.89) scale(0.9937,0.9382)"><text font-size="15.6" font-weight="bold" fill="#000" text-anchor="start">Typical Performance Characteristics</text></g>
<g transform="translate(85.67,63.48) scale(0.9944,0.9099)"><text font-size="11.7" font-weight="bold" fill="#000" text-anchor="start">Figure 1. Forward Current Characteristics</text></g>
<g transform="translate(363.68,63.42) scale(0.9909,0.9130)"><text font-size="11.7" font-weight="bold" fill="#000" text-anchor="start">Figure 2. Reverse Leakage Current</text></g>
<g transform="translate(91.05,319.27) scale(0.9976,0.9324)"><text font-size="11.7" font-weight="bold" fill="#000" text-anchor="start">Figure 3. Junction Capacitance</text></g>
<g transform="translate(368.89,319.3) scale(0.9936,0.9320)"><text font-size="11.7" font-weight="bold" fill="#000" text-anchor="start">Figure 4. Power Derating</text></g>
<g transform="translate(80.9,87) scale(1.0000,1.0000)"><text font-size="7.0" font-weight="normal" fill="#222" text-anchor="end">100</text></g>
<g transform="translate(80.9,130.2) scale(1.0000,1.0000)"><text font-size="7.0" font-weight="normal" fill="#222" text-anchor="end">10</text></g>
<g transform="translate(80.9,174) scale(1.0000,1.0000)"><text font-size="7.0" font-weight="normal" fill="#222" text-anchor="end">1</text></g>
<g transform="translate(80.9,216.7) scale(1.0000,1.0000)"><text font-size="7.0" font-weight="normal" fill="#222" text-anchor="end">0.1</text></g>
<g transform="translate(80.9,259.6) scale(1.0000,1.0000)"><text font-size="7.0" font-weight="normal" fill="#222" text-anchor="end">0.01</text></g>
<g transform="translate(85.5,267.6) scale(1.0000,1.0800)"><text font-size="7.6" font-weight="normal" fill="#222" text-anchor="middle">0.0</text></g>
<g transform="translate(162.33,267.6) scale(1.0000,1.0800)"><text font-size="7.6" font-weight="normal" fill="#222" text-anchor="middle">0.5</text></g>
<g transform="translate(239.17,267.6) scale(1.0000,1.0800)"><text font-size="7.6" font-weight="normal" fill="#222" text-anchor="middle">1.0</text></g>
<g transform="translate(316,267.6) scale(1.0000,1.0800)"><text font-size="7.6" font-weight="normal" fill="#222" text-anchor="middle">1.5</text></g>
<g transform="translate(151.19,283.97) scale(0.9896,1.0000)"><text font-size="9.4" font-weight="normal" fill="#222" text-anchor="start">Forward Voltage Drop, V<tspan font-size="5.8" dy="3.8">F</tspan><tspan dy="-3.8">[V]</tspan></text></g>
<g transform="translate(65.96,207.3) scale(0.9800,1.0062)"><text font-size="9.4" font-weight="normal" fill="#222" text-anchor="start" transform="rotate(-90)">Forward Current, I<tspan font-size="5.0" dy="4.3">F</tspan><tspan dy="-4.3">[A]</tspan></text></g>
<g transform="translate(164.06,189.1) scale(0.9918,1.0600)"><text font-size="8.4" font-weight="normal" fill="#222" text-anchor="start">T<tspan font-size="4.8" dy="1.0">J</tspan><tspan dy="-1.0">=125 </tspan><tspan font-size="5" dy="-3.5">o</tspan><tspan dy="3.5">C</tspan></text></g>
<g transform="translate(164.06,215.7) scale(0.9918,1.0600)"><text font-size="8.4" font-weight="normal" fill="#222" text-anchor="start">T<tspan font-size="4.8" dy="1.0">J</tspan><tspan dy="-1.0">=75 </tspan><tspan font-size="5" dy="-3.5">o</tspan><tspan dy="3.5">C</tspan></text></g>
<g transform="translate(163.26,237.8) scale(0.9918,1.0600)"><text font-size="8.4" font-weight="normal" fill="#222" text-anchor="start">T<tspan font-size="4.8" dy="1.0">J</tspan><tspan dy="-1.0">=25 </tspan><tspan font-size="5" dy="-3.5">o</tspan><tspan dy="3.5">C</tspan></text></g>
<g transform="translate(355.8,92.25) scale(1.0000,1.0500)"><text font-size="7.5" font-weight="normal" fill="#222" text-anchor="end">100</text></g>
<g transform="translate(355.8,126.25) scale(1.0000,1.0500)"><text font-size="7.5" font-weight="normal" fill="#222" text-anchor="end">10</text></g>
<g transform="translate(355.8,159.55) scale(1.0000,1.0500)"><text font-size="7.5" font-weight="normal" fill="#222" text-anchor="end">1</text></g>
<g transform="translate(355.8,193.25) scale(1.0000,1.0500)"><text font-size="7.5" font-weight="normal" fill="#222" text-anchor="end">0.1</text></g>
<g transform="translate(355.8,226.1) scale(1.0000,1.0500)"><text font-size="7.5" font-weight="normal" fill="#222" text-anchor="end">0.01</text></g>
<g transform="translate(355.8,259.3) scale(1.0000,1.0500)"><text font-size="7.5" font-weight="normal" fill="#222" text-anchor="end">1E-3</text></g>
<g transform="translate(360.2,267.1) scale(1.0000,1.0000)"><text font-size="7.6" font-weight="normal" fill="#222" text-anchor="middle">0</text></g>
<g transform="translate(411.07,267.1) scale(1.0000,1.0000)"><text font-size="7.6" font-weight="normal" fill="#222" text-anchor="middle">10</text></g>
<g transform="translate(461.93,267.1) scale(1.0000,1.0000)"><text font-size="7.6" font-weight="normal" fill="#222" text-anchor="middle">20</text></g>
<g transform="translate(512.8,267.1) scale(1.0000,1.0000)"><text font-size="7.6" font-weight="normal" fill="#222" text-anchor="middle">30</text></g>
<g transform="translate(563.67,267.1) scale(1.0000,1.0000)"><text font-size="7.6" font-weight="normal" fill="#222" text-anchor="middle">40</text></g>
<g transform="translate(430.36,281.04) scale(0.9966,1.1000)"><text font-size="9.2" font-weight="normal" fill="#222" text-anchor="start">Reverse Voltage, V<tspan font-size="6.0" dy="3.7">R</tspan><tspan dy="-3.7">[V]</tspan></text></g>
<g transform="translate(341.77,218.25) scale(1.0800,0.9397)"><text font-size="9.4" font-weight="normal" fill="#222" text-anchor="start" transform="rotate(-90)">Reverse Current, I<tspan font-size="5.8" dy="3.6">R</tspan><tspan dy="-3.6">[mA]</tspan></text></g>
<g transform="translate(446.94,100.39) scale(0.9939,1.0600)"><text font-size="8.4" font-weight="normal" fill="#222" text-anchor="start">T<tspan font-size="4.8" dy="2.8">J</tspan><tspan dy="-2.8">=150 </tspan><tspan font-size="5" dy="-4.0">o</tspan><tspan dy="4.0">C</tspan></text></g>
<g transform="translate(446.94,121.99) scale(0.9939,1.0600)"><text font-size="8.4" font-weight="normal" fill="#222" text-anchor="start">T<tspan font-size="4.8" dy="2.8">J</tspan><tspan dy="-2.8">=125 </tspan><tspan font-size="5" dy="-4.0">o</tspan><tspan dy="4.0">C</tspan></text></g>
<g transform="translate(446.94,166.59) scale(0.9939,1.0600)"><text font-size="8.4" font-weight="normal" fill="#222" text-anchor="start">T<tspan font-size="4.8" dy="2.8">J</tspan><tspan dy="-2.8">=75 </tspan><tspan font-size="5" dy="-4.0">o</tspan><tspan dy="4.0">C</tspan></text></g>
<g transform="translate(446.94,221.79) scale(0.9939,1.0600)"><text font-size="8.4" font-weight="normal" fill="#222" text-anchor="start">T<tspan font-size="4.8" dy="2.8">J</tspan><tspan dy="-2.8">=25 </tspan><tspan font-size="5" dy="-4.0">o</tspan><tspan dy="4.0">C</tspan></text></g>
<g transform="translate(90,351) scale(1.0000,1.1400)"><text font-size="7.2" font-weight="normal" fill="#222" text-anchor="end">1000</text></g>
<g transform="translate(90,359.91) scale(1.0000,1.1400)"><text font-size="7.2" font-weight="normal" fill="#222" text-anchor="end">900</text></g>
<g transform="translate(90,369.88) scale(1.0000,1.1400)"><text font-size="7.2" font-weight="normal" fill="#222" text-anchor="end">800</text></g>
<g transform="translate(90,381.17) scale(1.0000,1.1400)"><text font-size="7.2" font-weight="normal" fill="#222" text-anchor="end">700</text></g>
<g transform="translate(90,394.22) scale(1.0000,1.1400)"><text font-size="7.2" font-weight="normal" fill="#222" text-anchor="end">600</text></g>
<g transform="translate(90,409.64) scale(1.0000,1.1400)"><text font-size="7.2" font-weight="normal" fill="#222" text-anchor="end">500</text></g>
<g transform="translate(90,428.52) scale(1.0000,1.1400)"><text font-size="7.2" font-weight="normal" fill="#222" text-anchor="end">400</text></g>
<g transform="translate(90,452.86) scale(1.0000,1.1400)"><text font-size="7.2" font-weight="normal" fill="#222" text-anchor="end">300</text></g>
<g transform="translate(90,487.16) scale(1.0000,1.1400)"><text font-size="7.2" font-weight="normal" fill="#222" text-anchor="end">200</text></g>
<g transform="translate(94.3,519.1) scale(1.0000,1.0800)"><text font-size="7.2" font-weight="normal" fill="#222" text-anchor="middle">0</text></g>
<g transform="translate(144.37,519.1) scale(1.0000,1.0800)"><text font-size="7.2" font-weight="normal" fill="#222" text-anchor="middle">10</text></g>
<g transform="translate(194.43,519.1) scale(1.0000,1.0800)"><text font-size="7.2" font-weight="normal" fill="#222" text-anchor="middle">20</text></g>
<g transform="translate(244.5,519.1) scale(1.0000,1.0800)"><text font-size="7.2" font-weight="normal" fill="#222" text-anchor="middle">30</text></g>
<g transform="translate(294.57,519.1) scale(1.0000,1.0800)"><text font-size="7.2" font-weight="normal" fill="#222" text-anchor="middle">40</text></g>
<g transform="translate(153.08,529.57) scale(0.9890,1.1000)"><text font-size="9.2" font-weight="normal" fill="#222" text-anchor="start">Reverse Voltage, V<tspan font-size="6.0" dy="3.4">R</tspan><tspan dy="-3.4">[V]</tspan></text></g>
<g transform="translate(71.5,472.03) scale(1.0400,0.9764)"><text font-size="9.4" font-weight="normal" fill="#222" text-anchor="start" transform="rotate(-90)">Juntion Capacitance, C<tspan font-size="6.0" dy="3.4">J</tspan><tspan dy="-3.4">[PF]</tspan></text></g>
<g transform="translate(244.74,363.89) scale(0.9939,1.0600)"><text font-size="8.4" font-weight="normal" fill="#222" text-anchor="start">T<tspan font-size="4.8" dy="2.0">J</tspan><tspan dy="-2.0">=25 </tspan><tspan font-size="5" dy="-3.4">o</tspan><tspan dy="3.4">C</tspan></text></g>
<g transform="translate(353.2,510.1) scale(1.0000,1.0000)"><text font-size="7.3" font-weight="normal" fill="#222" text-anchor="end" letter-spacing="0.3">0</text></g>
<g transform="translate(353.2,485.28) scale(1.0000,1.0000)"><text font-size="7.3" font-weight="normal" fill="#222" text-anchor="end" letter-spacing="0.3">5</text></g>
<g transform="translate(353.2,460.46) scale(1.0000,1.0000)"><text font-size="7.3" font-weight="normal" fill="#222" text-anchor="end" letter-spacing="0.3">10</text></g>
<g transform="translate(353.2,435.64) scale(1.0000,1.0000)"><text font-size="7.3" font-weight="normal" fill="#222" text-anchor="end" letter-spacing="0.3">15</text></g>
<g transform="translate(353.2,410.82) scale(1.0000,1.0000)"><text font-size="7.3" font-weight="normal" fill="#222" text-anchor="end" letter-spacing="0.3">20</text></g>
<g transform="translate(353.2,386) scale(1.0000,1.0000)"><text font-size="7.3" font-weight="normal" fill="#222" text-anchor="end" letter-spacing="0.3">25</text></g>
<g transform="translate(353.2,361.18) scale(1.0000,1.0000)"><text font-size="7.3" font-weight="normal" fill="#222" text-anchor="end" letter-spacing="0.3">30</text></g>
<g transform="translate(353.2,336.36) scale(1.0000,1.0000)"><text font-size="7.3" font-weight="normal" fill="#222" text-anchor="end" letter-spacing="0.3">35</text></g>
<g transform="translate(357.5,517.7) scale(1.0000,1.0000)"><text font-size="7.3" font-weight="normal" fill="#222" text-anchor="middle" letter-spacing="0.3">0</text></g>
<g transform="translate(386.65,517.7) scale(1.0000,1.0000)"><text font-size="7.3" font-weight="normal" fill="#222" text-anchor="middle" letter-spacing="0.3">20</text></g>
<g transform="translate(415.8,517.7) scale(1.0000,1.0000)"><text font-size="7.3" font-weight="normal" fill="#222" text-anchor="middle" letter-spacing="0.3">40</text></g>
<g transform="translate(444.95,517.7) scale(1.0000,1.0000)"><text font-size="7.3" font-weight="normal" fill="#222" text-anchor="middle" letter-spacing="0.3">60</text></g>
<g transform="translate(474.1,517.7) scale(1.0000,1.0000)"><text font-size="7.3" font-weight="normal" fill="#222" text-anchor="middle" letter-spacing="0.3">80</text></g>
<g transform="translate(503.25,517.7) scale(1.0000,1.0000)"><text font-size="7.3" font-weight="normal" fill="#222" text-anchor="middle" letter-spacing="0.3">100</text></g>
<g transform="translate(532.4,517.7) scale(1.0000,1.0000)"><text font-size="7.3" font-weight="normal" fill="#222" text-anchor="middle" letter-spacing="0.3">120</text></g>
<g transform="translate(561.55,517.7) scale(1.0000,1.0000)"><text font-size="7.3" font-weight="normal" fill="#222" text-anchor="middle" letter-spacing="0.3">140</text></g>
<g transform="translate(590.7,517.7) scale(1.0000,1.0000)"><text font-size="7.3" font-weight="normal" fill="#222" text-anchor="middle" letter-spacing="0.3">160</text></g>
<g transform="translate(451.63,358.75) scale(1.0040,1.0875)"><text font-size="9.4" font-weight="normal" fill="#222" text-anchor="start">DC</text></g>
<g transform="translate(413.02,532.32) scale(1.0271,1.0700)"><text font-size="10.2" font-weight="normal" fill="#222" text-anchor="start">Case Temperature, T<tspan font-size="6.0" dy="4.2">C</tspan><tspan dy="-4.2">[</tspan><tspan font-size="6" dy="-4.2">o</tspan><tspan dy="4.2">C]</tspan></text></g>
<g transform="translate(337.61,496.74) scale(1.0000,0.9760)"><text font-size="10.2" font-weight="normal" fill="#222" text-anchor="start" transform="rotate(-90)">Average Forward Current, I<tspan font-size="6.7" dy="3.4">F(AV)</tspan><tspan dy="-3.4">[A]</tspan></text></g>
</g>
<rect x="343" y="185" width="4.1" height="10" fill="#fff"/>
</svg>
</body></html>
